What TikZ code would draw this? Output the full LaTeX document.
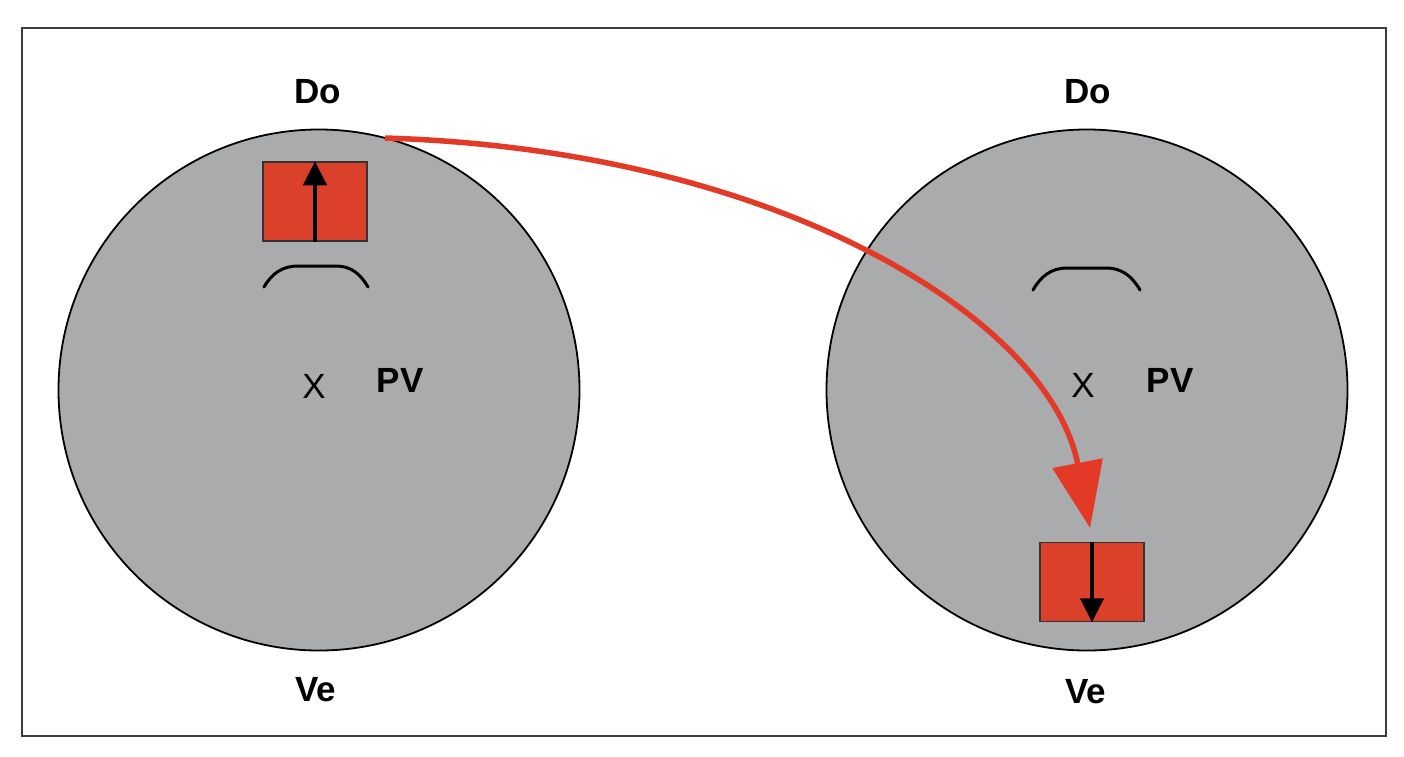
\documentclass[tikz,border=0pt]{standalone}
\usepackage{fontspec}
\setmainfont{Liberation Sans}
\usetikzlibrary{arrows.meta}
\definecolor{disc}{RGB}{170,171,172}
\definecolor{boxred}{RGB}{218,64,42}
\definecolor{arrred}{RGB}{226,58,38}
\definecolor{framec}{RGB}{60,60,60}
\tikzset{
  disk/.style={circle, draw=black, line width=1.8pt, fill=disc, minimum size=521pt, inner sep=0pt},
  spinbox/.style={draw=black!80, line width=1.5pt, fill=boxred, minimum width=104pt, minimum height=79pt, inner sep=0pt},
  spinarrow/.style={line width=4.5pt, -{Triangle[length=24pt,width=23pt]}},
  lbl/.style={font=\fontsize{35}{38}\selectfont\bfseries, inner sep=0pt},
  xlbl/.style={font=\fontsize{35}{38}\selectfont, inner sep=0pt},
  bow/.style={line width=3pt, line cap=round},
  flip/.style={draw=arrred, line width=5.5pt, -{Triangle[length=66pt,width=50pt]}}
}
\begin{document}
\begin{tikzpicture}[x=1pt,y=-1pt]
\useasboundingbox (0,0) rectangle (1404,756);
\draw[framec, line width=2.5pt] (22,28) rectangle (1386,736);
% disks
\node[disk] (L) at (319,390) {};
\node[disk] (R) at (1087,390) {};
% labels
\node[lbl] (Ldo) at (318,92) {Do};
\node[lbl] (Rdo) at (1088,92) {Do};
\node[lbl] (Lve) at (316,690) {Ve};
\node[lbl] (Rve) at (1086,692) {Ve};
\node[xlbl] (Lx) at (314,386) {X};
\node[xlbl] (Rx) at (1083,385) {X};
\node[lbl] (Lpv) at (400,380) {PV};
\node[lbl] (Rpv) at (1170,380) {PV};
% bows
\draw[bow] (264,287) to[out=60,in=180] (298,266) -- (336,266) to[out=0,in=120] (368,287);
\draw[bow] (1033,290) to[out=60,in=180] (1067,268) -- (1106,268) to[out=0,in=120] (1140,290);
% spin boxes
\node[spinbox] (Lb) at (315,201.5) {};
\node[spinbox] (Rb) at (1092,582) {};
\draw[spinarrow] (Lb.south) -- (Lb.north);
\draw[spinarrow] (Rb.north) -- (Rb.south);
% transfer arrow
\coordinate (s) at (385,138);
\coordinate (t) at (1090,528);
\draw[flip] (s) .. controls (780,150) and (1050,320) .. (t);
\end{tikzpicture}
\end{document}
